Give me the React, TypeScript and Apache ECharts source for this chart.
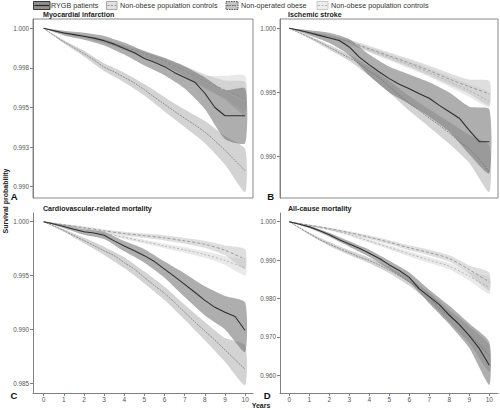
import React, { useEffect, useRef } from "react";
import * as echarts from "echarts";

const FONT = "Liberation Sans, Arial, Helvetica, sans-serif";

// x grids
const YEARS_HALF = [0, 0.5, 1, 1.5, 2, 2.5, 3, 3.5, 4, 4.5, 5, 5.5, 6, 6.5, 7, 7.5, 8, 8.5, 9, 9.5, 10];
const YEARS = [0, 1, 2, 3, 4, 5, 6, 7, 8, 9, 10];
const X_TICKS = [0, 1, 2, 3, 4, 5, 6, 7, 8, 9, 10];

const LEGEND_LABELS = ["RYGB patients", "Non-obese population controls", "Non-operated obese", "Non-obese population controls"];
const PANEL_TITLES = ["Myocardial infarction", "Ischemic stroke", "Cardiovascular-related mortality", "All-cause mortality"];
const PANEL_LETTERS = ["A", "B", "C", "D"];

// y tick values / labels
const A_TICKS = [0.99, 0.9925, 0.995, 0.9975, 1.0];
const A_TICK_LABELS = ["0.990", "0.993", "0.995", "0.998", "1.000"];
const B_TICKS = [0.99, 0.995, 1.0];
const B_TICK_LABELS = ["0.990", "0.995", "1.000"];
const C_TICKS = [0.985, 0.99, 0.995, 1.0];
const C_TICK_LABELS = ["0.985", "0.990", "0.995", "1.000"];
const D_TICKS = [0.96, 0.97, 0.98, 0.99, 1.0];
const D_TICK_LABELS = ["0.960", "0.970", "0.980", "0.990", "1.000"];

// ---------- Panel A: Myocardial infarction ----------
const A_RYGB = [1.0, 0.99985, 0.9997, 0.9996, 0.9995, 0.99938, 0.99922, 0.999, 0.99872, 0.99845, 0.9981, 0.99785, 0.99758, 0.9972, 0.9969, 0.9966, 0.9959, 0.995, 0.99448, 0.99448, 0.99448];
const A_RYGB_LO = [1, 0.99955, 0.99928, 0.99892, 0.99834, 0.99765, 0.99704, 0.9962, 0.9949, 0.993, 0.99275];
const A_RYGB_HI = [1, 0.99985, 0.99972, 0.99952, 0.9991, 0.99855, 0.99812, 0.9976, 0.9969, 0.9961, 0.9962];
const A_OBESE = [1.0, 0.99955, 0.99915, 0.99878, 0.9984, 0.998, 0.99755, 0.99725, 0.9969, 0.99655, 0.99612, 0.99565, 0.9952, 0.99475, 0.99432, 0.9939, 0.99345, 0.9929, 0.9923, 0.99165, 0.991];
const A_OBESE_LO = [1, 0.99905, 0.99822, 0.99731, 0.9966, 0.99576, 0.99475, 0.99377, 0.99275, 0.9914, 0.98965];
const A_OBESE_HI = [1, 0.99925, 0.99858, 0.99779, 0.9972, 0.99648, 0.99565, 0.99487, 0.99415, 0.9932, 0.99238];
const A_CTRL1 = [1, 0.99972, 0.99948, 0.9992, 0.9988, 0.9984, 0.9979, 0.9973, 0.99665, 0.9961, 0.99555];
const A_CTRL1_LO = [1, 0.99966, 0.9994, 0.99908, 0.99865, 0.9982, 0.99765, 0.99698, 0.9962, 0.9955, 0.9945];
const A_CTRL1_HI = [1, 0.99978, 0.99956, 0.99932, 0.99895, 0.9986, 0.99815, 0.99762, 0.9971, 0.9967, 0.9966];
const A_CTRL2 = [1, 0.9997, 0.99945, 0.99915, 0.99875, 0.99835, 0.99785, 0.99725, 0.9966, 0.996, 0.9954];
const A_CTRL2_LO = [1, 0.99965, 0.99938, 0.99905, 0.99862, 0.99818, 0.99764, 0.997, 0.99628, 0.9956, 0.9948];
const A_CTRL2_HI = [1, 0.99975, 0.99952, 0.99925, 0.99888, 0.99852, 0.99806, 0.9975, 0.997, 0.997, 0.997];

// ---------- Panel B: Ischemic stroke ----------
const B_RYGB = [1.0, 0.99985, 0.99965, 0.99945, 0.99925, 0.99905, 0.99855, 0.99775, 0.99715, 0.9966, 0.99608, 0.99565, 0.9953, 0.9949, 0.99455, 0.994, 0.9935, 0.993, 0.99205, 0.99117, 0.99117];
const B_RYGB_LO = [1, 0.99945, 0.99885, 0.9979, 0.9963, 0.995, 0.9941, 0.9931, 0.99195, 0.9902, 0.9887];
const B_RYGB_HI = [1, 0.99985, 0.99965, 0.99915, 0.99795, 0.997, 0.9964, 0.9958, 0.995, 0.9939, 0.9937];
const B_OBESE = [1, 0.99965, 0.9993, 0.99893, 0.99852, 0.9981, 0.9977, 0.99725, 0.99665, 0.99615, 0.99545, 0.9948, 0.99415, 0.9936, 0.993, 0.99245, 0.99185, 0.9912, 0.9906, 0.9898, 0.9888];
const B_OBESE_LO = [1, 0.9992, 0.99834, 0.99745, 0.9963, 0.995, 0.99357, 0.9923, 0.991, 0.9895, 0.98723];
const B_OBESE_HI = [1, 0.9994, 0.9987, 0.99795, 0.997, 0.9959, 0.99473, 0.9937, 0.9927, 0.9917, 0.99086];
const B_CTRL1 = [1, 0.99968, 0.99935, 0.99895, 0.9984, 0.99785, 0.9973, 0.9967, 0.99605, 0.99545, 0.9949];
const B_CTRL1_LO = [1, 0.9996, 0.99922, 0.99878, 0.99818, 0.99758, 0.99698, 0.99632, 0.9956, 0.9949, 0.994];
const B_CTRL1_HI = [1, 0.99976, 0.99948, 0.99912, 0.99862, 0.99812, 0.99762, 0.99708, 0.9965, 0.996, 0.9959];
const B_CTRL2 = [1, 0.99965, 0.9993, 0.99888, 0.99832, 0.99775, 0.99718, 0.99655, 0.99585, 0.99515, 0.9943];
const B_CTRL2_LO = [1, 0.99958, 0.99918, 0.99872, 0.99812, 0.9975, 0.99688, 0.9962, 0.99545, 0.99465, 0.99385];
const B_CTRL2_HI = [1, 0.99972, 0.99942, 0.99904, 0.99852, 0.998, 0.99748, 0.9969, 0.99625, 0.99565, 0.995];

// ---------- Panel C: Cardiovascular-related mortality ----------
const C_RYGB = [1, 0.99978, 0.99955, 0.9993, 0.99907, 0.99895, 0.99875, 0.99822, 0.99775, 0.9973, 0.99685, 0.9963, 0.9956, 0.9949, 0.99418, 0.99345, 0.9927, 0.99205, 0.9916, 0.9912, 0.9899];
const C_RYGB_LO = [1, 0.9994, 0.9988, 0.9984, 0.99725, 0.9962, 0.9948, 0.993, 0.9913, 0.99, 0.9879];
const C_RYGB_HI = [1, 0.9997, 0.9993, 0.99905, 0.9982, 0.99745, 0.9963, 0.9952, 0.994, 0.9931, 0.9925];
const C_OBESE = [1, 0.9996, 0.99918, 0.9987, 0.99825, 0.99778, 0.9973, 0.99685, 0.9962, 0.9956, 0.99482, 0.99408, 0.99335, 0.9925, 0.9916, 0.9907, 0.98985, 0.989, 0.9881, 0.9872, 0.9863];
const C_OBESE_LO = [1, 0.99906, 0.998, 0.99692, 0.9957, 0.99427, 0.99273, 0.9909, 0.989, 0.987, 0.98482];
const C_OBESE_HI = [1, 0.9993, 0.9985, 0.99768, 0.9967, 0.99537, 0.99397, 0.9923, 0.9907, 0.9892, 0.98853];
const C_CTRL1 = [1, 0.99972, 0.99945, 0.99915, 0.9989, 0.9987, 0.9985, 0.99822, 0.9979, 0.99735, 0.9965];
const C_CTRL1_LO = [1, 0.99966, 0.99935, 0.99902, 0.99873, 0.9985, 0.99826, 0.99795, 0.99757, 0.9969, 0.9956];
const C_CTRL1_HI = [1, 0.99978, 0.99955, 0.99928, 0.99907, 0.9989, 0.99874, 0.99849, 0.99823, 0.9978, 0.99745];
const C_CTRL2 = [1, 0.99968, 0.99935, 0.99895, 0.99855, 0.99815, 0.99775, 0.99738, 0.99695, 0.9964, 0.9957];
const C_CTRL2_LO = [1, 0.99963, 0.99926, 0.99883, 0.9984, 0.99797, 0.99754, 0.99712, 0.99665, 0.996, 0.995];
const C_CTRL2_HI = [1, 0.99973, 0.99944, 0.99907, 0.9987, 0.99833, 0.99796, 0.99764, 0.99725, 0.9968, 0.9964];

// ---------- Panel D: All-cause mortality ----------
const D_RYGB = [1, 0.99935, 0.99865, 0.9977, 0.9966, 0.9953, 0.9942, 0.9931, 0.9918, 0.9904, 0.98875, 0.9873, 0.9855, 0.9825, 0.9805, 0.9784, 0.9757, 0.9732, 0.9703, 0.967, 0.9626];
const D_RYGB_LO = [1, 0.99835, 0.9961, 0.9935, 0.9909, 0.98765, 0.9842, 0.9787, 0.9733, 0.9671, 0.9575];
const D_RYGB_HI = [1, 0.99895, 0.9971, 0.9949, 0.9927, 0.98985, 0.9868, 0.9823, 0.9781, 0.9735, 0.9687];
const D_OBESE = [1, 0.99845, 0.9969, 0.9954, 0.9942, 0.993, 0.99195, 0.9908, 0.9899, 0.9887, 0.9874, 0.9859, 0.9843, 0.9825, 0.9803, 0.9775, 0.9754, 0.9733, 0.9706, 0.968, 0.965];
const D_OBESE_LO = [1, 0.9966, 0.9937, 0.99135, 0.9892, 0.9866, 0.9833, 0.9791, 0.9738, 0.9684, 0.9609];
const D_OBESE_HI = [1, 0.9972, 0.9947, 0.99255, 0.9906, 0.9882, 0.9853, 0.9815, 0.977, 0.9728, 0.9679];
const D_CTRL1 = [1, 0.9991, 0.9982, 0.99715, 0.99595, 0.99465, 0.9932, 0.99195, 0.9904, 0.9875, 0.9843];
const D_CTRL1_LO = [1, 0.99895, 0.99795, 0.9968, 0.9955, 0.9941, 0.99255, 0.9912, 0.98955, 0.9864, 0.982];
const D_CTRL1_HI = [1, 0.99925, 0.99845, 0.9975, 0.9964, 0.9952, 0.99385, 0.9927, 0.99125, 0.9886, 0.9868];
const D_CTRL2 = [1, 0.999, 0.99795, 0.99665, 0.99495, 0.9933, 0.9916, 0.99, 0.9884, 0.9858, 0.9828];
const D_CTRL2_LO = [1, 0.99885, 0.9977, 0.9963, 0.9945, 0.99275, 0.99095, 0.98925, 0.98755, 0.9847, 0.9812];
const D_CTRL2_HI = [1, 0.99915, 0.9982, 0.997, 0.9954, 0.99385, 0.99225, 0.99075, 0.98925, 0.9869, 0.9855];

const STYLE = {
  ctrl2: { band: "#cfcfcf", bandOpacity: 0.45, line: "#a8a8a8", width: 0.8, dash: [2, 2], smooth: 0.3 },
  ctrl1: { band: "#bdbdbd", bandOpacity: 0.5, line: "#8a8a8a", width: 0.8, dash: [3, 2], smooth: 0.3 },
  obese: { band: "#a8a8a8", bandOpacity: 0.5, line: "#707070", width: 0.7, dash: [2, 1], smooth: 0.3 },
  rygb: { band: "#6b6b6b", bandOpacity: 0.55, line: "#2e2e2e", width: 1.1, dash: null as any, smooth: 0 },
};

const PANELS = [
  {
    grid: { left: 33, top: 19, width: 220, height: 179 }, frame: true, showX: false,
    xMin: -0.53, xMax: 10.39, yMin: 0.989287, yMax: 1.000587, ticks: A_TICKS, labels: A_TICK_LABELS,
    groups: {
      ctrl2: [YEARS, A_CTRL2, A_CTRL2_LO, A_CTRL2_HI], ctrl1: [YEARS, A_CTRL1, A_CTRL1_LO, A_CTRL1_HI],
      obese: [YEARS_HALF, A_OBESE, A_OBESE_LO, A_OBESE_HI], rygb: [YEARS_HALF, A_RYGB, A_RYGB_LO, A_RYGB_HI],
    },
  },
  {
    grid: { left: 280, top: 19, width: 218, height: 179 }, frame: true, showX: false,
    xMin: -0.465, xMax: 10.435, yMin: 0.986784, yMax: 1.000724, ticks: B_TICKS, labels: B_TICK_LABELS,
    groups: {
      ctrl2: [YEARS, B_CTRL2, B_CTRL2_LO, B_CTRL2_HI], ctrl1: [YEARS, B_CTRL1, B_CTRL1_LO, B_CTRL1_HI],
      obese: [YEARS_HALF, B_OBESE, B_OBESE_LO, B_OBESE_HI], rygb: [YEARS_HALF, B_RYGB, B_RYGB_LO, B_RYGB_HI],
    },
  },
  {
    grid: { left: 33, top: 213, width: 220, height: 180 }, frame: false, showX: true,
    xMin: -0.53, xMax: 10.39, yMin: 0.9841, yMax: 1.000808, ticks: C_TICKS, labels: C_TICK_LABELS,
    groups: {
      ctrl2: [YEARS, C_CTRL2, C_CTRL2_LO, C_CTRL2_HI], ctrl1: [YEARS, C_CTRL1, C_CTRL1_LO, C_CTRL1_HI],
      obese: [YEARS_HALF, C_OBESE, C_OBESE_LO, C_OBESE_HI], rygb: [YEARS_HALF, C_RYGB, C_RYGB_LO, C_RYGB_HI],
    },
  },
  {
    grid: { left: 280, top: 213, width: 218, height: 180 }, frame: false, showX: true,
    xMin: -0.465, xMax: 10.435, yMin: 0.955391, yMax: 1.002266, ticks: D_TICKS, labels: D_TICK_LABELS,
    groups: {
      ctrl2: [YEARS, D_CTRL2, D_CTRL2_LO, D_CTRL2_HI], ctrl1: [YEARS, D_CTRL1, D_CTRL1_LO, D_CTRL1_HI],
      obese: [YEARS_HALF, D_OBESE, D_OBESE_LO, D_OBESE_HI], rygb: [YEARS_HALF, D_RYGB, D_RYGB_LO, D_RYGB_HI],
    },
  },
];

const ORDER = ["ctrl2", "ctrl1", "obese", "rygb"];

function bandSeries(idx: number, xs: number[], lo: number[], hi: number[], fill: string, opacity: number) {
  return {
    type: "custom",
    xAxisIndex: idx,
    yAxisIndex: idx,
    silent: true,
    clip: true,
    data: xs.map((x, i) => [x, lo[i], hi[i]]),
    encode: { x: 0, y: [1, 2] },
    renderItem: (params: any, api: any) => {
      if (params.dataIndex !== 0) return null;
      const top = xs.map((x, i) => api.coord([x, hi[i]]));
      const bot = xs.map((x, i) => api.coord([x, lo[i]])).reverse();
      return { type: "polygon", shape: { points: top.concat(bot), smooth: 0.2 }, style: { fill, opacity } };
    },
  };
}

function lineSeries(idx: number, xs: number[], ys: number[], st: any) {
  return {
    type: "line",
    xAxisIndex: idx,
    yAxisIndex: idx,
    silent: true,
    showSymbol: false,
    symbol: "none",
    clip: true,
    smooth: st.smooth || false,
    data: xs.map((x, i) => [x, ys[i]]),
    lineStyle: { color: st.line, width: st.width, type: st.dash || "solid" },
  };
}

function buildOption() {
  const grid: any[] = [];
  const xAxis: any[] = [];
  const yAxis: any[] = [];
  const series: any[] = [];
  PANELS.forEach((p, idx) => {
    grid.push({ ...p.grid, containLabel: false, show: p.frame, borderColor: "#8a8a8a", borderWidth: 1, backgroundColor: "transparent" });
    xAxis.push({
      type: "value", gridIndex: idx, min: p.xMin, max: p.xMax,
      axisLine: { show: p.showX, onZero: false, lineStyle: { color: "#808080", width: 1 } },
      axisTick: { show: p.showX, customValues: X_TICKS, length: 3, lineStyle: { color: "#808080" } },
      axisLabel: { show: p.showX, customValues: X_TICKS, fontSize: 6.5, color: "#555", margin: 3, fontFamily: FONT },
      splitLine: { show: false },
    });
    const ticks = p.ticks;
    const labels = p.labels;
    yAxis.push({
      type: "value", gridIndex: idx, min: p.yMin, max: p.yMax,
      axisLine: { show: true, onZero: false, lineStyle: { color: "#808080", width: 1 } },
      axisTick: { show: true, customValues: ticks, length: 3, lineStyle: { color: "#808080" } },
      axisLabel: {
        show: true, customValues: ticks, fontSize: 6.3, color: "#555", margin: 4, fontFamily: FONT,
        formatter: (v: number) => {
          const i = ticks.findIndex((t) => Math.abs(t - v) < 1e-7);
          return i >= 0 ? labels[i] : "";
        },
      },
      splitLine: { show: false },
    });
    ORDER.forEach((k) => {
      const g = (p.groups as any)[k];
      const st = (STYLE as any)[k];
      const lo = g[2];
      const hi = g[3];
      series.push(bandSeries(idx, g[0].length === lo.length ? g[0] : YEARS, lo, hi, st.band, st.bandOpacity));
    });
    ORDER.forEach((k) => {
      const g = (p.groups as any)[k];
      series.push(lineSeries(idx, g[0], g[1], (STYLE as any)[k]));
    });
  });

  const textStyle = (extra: any) => ({ fontFamily: FONT, fill: "#222", textVerticalAlign: "middle", ...extra });
  const graphic: any[] = [];
  // legend
  const legendItems = [
    { x: 33.5, w: 16.5, fill: "#8f8f8f", stroke: "#3a3a3a", boxDash: null, line: "#222", lineDash: null, tx: 51 },
    { x: 106.5, w: 10.5, fill: "#e2e2e2", stroke: "#a8a8a8", boxDash: null, line: "#999", lineDash: [2, 1.5], tx: 120 },
    { x: 226, w: 12, fill: "#c4c4c4", stroke: "#555", boxDash: [1.5, 1], line: "#666", lineDash: [1.5, 1], tx: 241 },
    { x: 317, w: 11, fill: "#eeeeee", stroke: "#c8c8c8", boxDash: null, line: "#b0b0b0", lineDash: [2, 1.5], tx: 331 },
  ];
  legendItems.forEach((it, i) => {
    graphic.push({ type: "rect", shape: { x: it.x, y: 1.5, width: it.w, height: 8 }, style: { fill: it.fill, stroke: it.stroke, lineWidth: 1, lineDash: it.boxDash }, silent: true });
    graphic.push({ type: "line", shape: { x1: it.x + 1, y1: 5.5, x2: it.x + it.w - 1, y2: 5.5 }, style: { stroke: it.line, lineWidth: 1.1, lineDash: it.lineDash }, silent: true });
    graphic.push({ type: "text", x: it.tx, y: 5.8, style: textStyle({ text: LEGEND_LABELS[i], fontSize: 7.2, fill: "#333", textAlign: "left" }), silent: true });
  });
  // panel titles
  const titlePos = [[43, 15], [288, 15], [43, 208.5], [288, 208.5]];
  PANEL_TITLES.forEach((t, i) => {
    graphic.push({ type: "text", x: titlePos[i][0], y: titlePos[i][1], style: textStyle({ text: t, fontSize: 7.1, fontWeight: "bold", textAlign: "left" }), silent: true });
  });
  // panel letters
  const letterPos = [[14.2, 196.7], [270.7, 196.7], [14, 395], [267.3, 395]];
  PANEL_LETTERS.forEach((t, i) => {
    graphic.push({ type: "text", x: letterPos[i][0], y: letterPos[i][1], style: textStyle({ text: t, fontSize: 9.5, fontWeight: "bold", fill: "#111", textAlign: "center" }), silent: true });
  });
  // axis titles
  graphic.push({ type: "text", x: 5, y: 201, rotation: Math.PI / 2, style: textStyle({ text: "Survival probability", fontSize: 7, fontWeight: "bold", textAlign: "center" }), silent: true });
  graphic.push({ type: "text", x: 261, y: 405.5, style: textStyle({ text: "Years", fontSize: 7, fontWeight: "bold", textAlign: "center" }), silent: true });

  return { animation: false, backgroundColor: "#ffffff", grid, xAxis, yAxis, series, graphic };
}

export default function App() {
  const ref = useRef<HTMLDivElement>(null);
  useEffect(() => {
    if (!ref.current) return;
    const chart = echarts.init(ref.current, undefined, { renderer: "svg" });
    chart.setOption(buildOption() as any);
    return () => chart.dispose();
  }, []);
  return <div ref={ref} style={{ position: "absolute", left: 0, top: 0, width: 500, height: 410 }} />;
}
